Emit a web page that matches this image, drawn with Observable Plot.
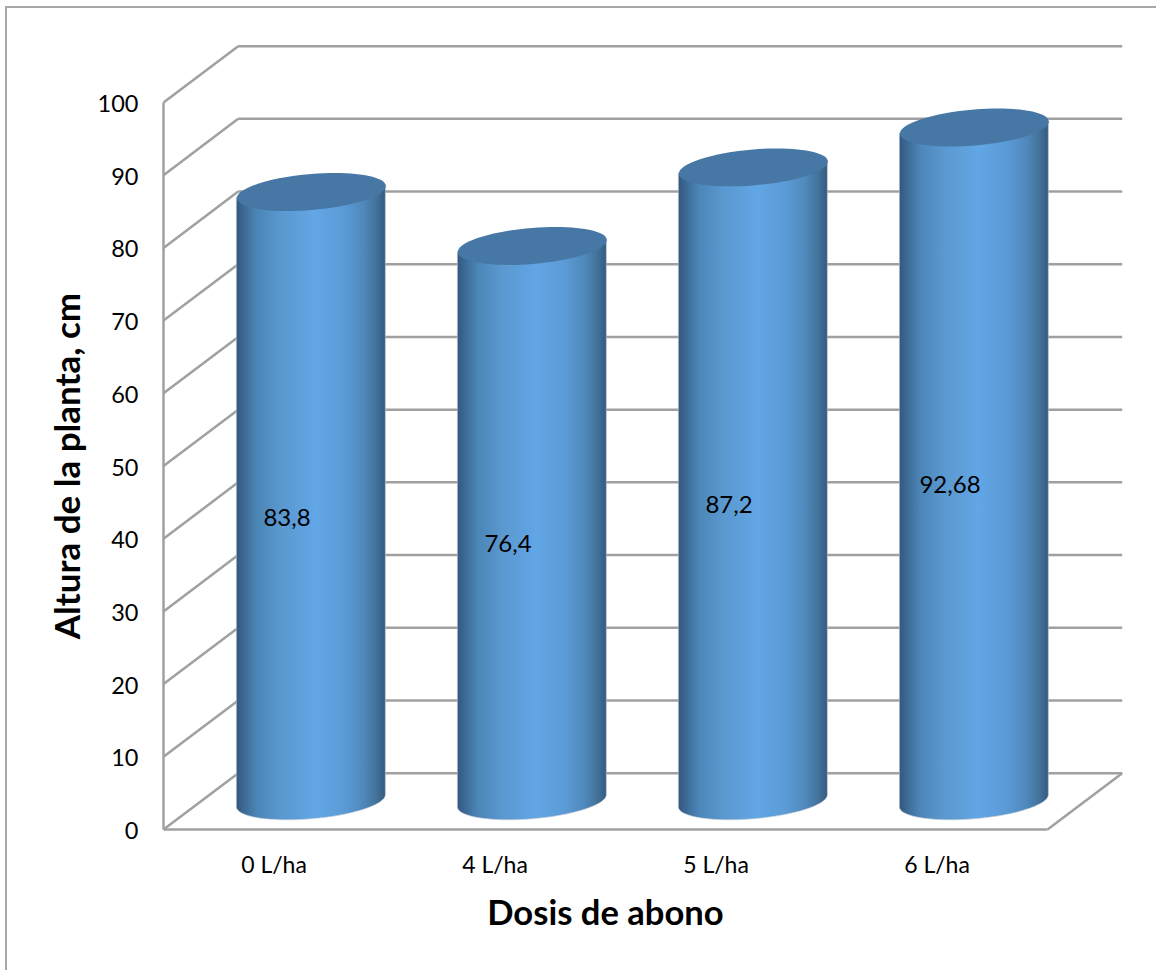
<!DOCTYPE html>
<html>
<head>
<meta charset="utf-8">
<script src="https://cdn.jsdelivr.net/npm/d3@7"></script>
<script src="https://cdn.jsdelivr.net/npm/@observablehq/plot@0.6"></script>
<style>
  html, body { margin: 0; padding: 0; background: #fff; }
  #page { position: relative; width: 1156px; height: 970px; overflow: hidden; font-family: Lato, sans-serif; }
  #edge { position: absolute; left: 5px; top: 6px; right: -4px; bottom: -4px; border-left: 2px solid #a8a8a8; border-top: 2px solid #a8a8a8; }
  #chart { position: absolute; left: 0; top: 0; }
  #chart svg { background: transparent; overflow: visible; }
</style>
</head>
<body>
<div id="page"><div id="edge"></div><div id="chart"></div></div>
<script>
const categories = ["0 L/ha", "4 L/ha", "5 L/ha", "6 L/ha"];
const heights = [83.8, 76.4, 87.2, 92.68];
const valueLabels = ["83,8", "76,4", "87,2", "92,68"];
const yTicks = [0, 10, 20, 30, 40, 50, 60, 70, 80, 90, 100];

// Depth of the 3D box, in data units of the two scales.
const depthX = 0.338;
const depthY = 7.75;

const rows = categories.map((category, i) => ({category, i, height: heights[i], label: valueLabels[i]}));
const gridColor = "#a0a0a0";
const shear = 6, lip = 18, kappa = 0.5523;

// Sheared ellipse: the tilted lid of a cylinder.
const lid = {
  draw(ctx, size) {
    const a = Math.sqrt(size / Math.PI), b = lip, k = shear, q = kappa;
    ctx.moveTo(-a, k);
    ctx.bezierCurveTo(-a, k + q * b, -q * a, b + q * k, 0, b);
    ctx.bezierCurveTo(q * a, b - q * k, a, -k + q * b, a, -k);
    ctx.bezierCurveTo(a, -k - q * b, q * a, -b - q * k, 0, -b);
    ctx.bezierCurveTo(-q * a, -b + q * k, -a, k - q * b, -a, k);
    ctx.closePath();
  }
};

// Turns each rect from the library into a cylinder body with a rounded bottom.
function cylinderBody(index, scales, values, dimensions, context, next) {
  const g = next(index, scales, values, dimensions, context);
  d3.select(g).selectAll("rect").each(function () {
    const x = +this.getAttribute("x"), y = +this.getAttribute("y");
    const w = +this.getAttribute("width"), h = +this.getAttribute("height");
    const a = w / 2, b = lip, k = shear, q = kappa, cx = x + a, cy = y + h;
    const path = document.createElementNS("http://www.w3.org/2000/svg", "path");
    path.setAttribute("d",
      `M${x},${y + k}L${x},${cy + k}` +
      `C${x},${cy + k + q * b} ${cx - q * a},${cy + b + q * k} ${cx},${cy + b}` +
      `C${cx + q * a},${cy + b - q * k} ${x + w},${cy - k + q * b} ${x + w},${cy - k}` +
      `L${x + w},${y - k}Z`);
    this.replaceWith(path);
  });
  return g;
}

const plot = Plot.plot({
  width: 1156,
  height: 970,
  marginTop: 102,
  marginBottom: 141,
  marginLeft: 163,
  marginRight: 109,
  style: {fontFamily: "Lato, sans-serif", color: "#000", background: "transparent"},
  x: {type: "linear", domain: [0, categories.length], axis: null},
  y: {type: "linear", domain: [0, 100], axis: null},
  marks: [
    // left wall and back wall
    Plot.link(yTicks, {x1: 0, x2: depthX, y1: d => d, y2: d => d + depthY, stroke: gridColor, strokeWidth: 2.5}),
    Plot.link(yTicks, {x1: depthX, x2: categories.length + depthX, y1: d => d + depthY, y2: d => d + depthY, stroke: gridColor, strokeWidth: 2.5}),
    // front axis edges and floor
    Plot.link([0], {x1: 0, x2: 0, y1: 0, y2: 100, stroke: gridColor, strokeWidth: 2.5}),
    Plot.link([0], {x1: 0, x2: categories.length, y1: 0, y2: 0, stroke: gridColor, strokeWidth: 2.5}),
    Plot.link([0], {x1: categories.length, x2: categories.length + depthX, y1: 0, y2: depthY, stroke: gridColor, strokeWidth: 2.5}),
    // cylinders
    Plot.rectY(rows, {
      x1: d => d.i + depthX / 2,
      x2: d => d.i + 1 + depthX / 2,
      y1: depthY / 2,
      y2: d => d.height + depthY / 2,
      insetLeft: 36,
      insetRight: 36,
      fill: "url(#cylinderShade)",
      stroke: "#c3ccd6",
      strokeOpacity: 0.6,
      strokeWidth: 1,
      render: cylinderBody
    }),
    Plot.dot(rows, {
      x: d => d.i + 0.5 + depthX / 2,
      y: d => d.height + depthY / 2,
      r: 74.5,
      symbol: lid,
      fill: "#4677a5"
    }),
    // value labels
    Plot.text(rows, {
      x: d => d.i + 0.5,
      y: d => d.height / 2,
      text: "label",
      dx: 13,
      dy: -7,
      fontSize: 24,
      fill: "#000"
    }),
    // axes
    Plot.axisY({ticks: yTicks, tickSize: 0, tickPadding: 25, fontSize: 23.5, dy: 2, label: null, anchor: "left", stroke: "none", fill: "#000"}),
    Plot.axisX({
      ticks: categories.map((d, i) => i + 0.5),
      tickFormat: (d, i) => categories[i],
      tickSize: 0,
      tickPadding: 26,
      fontSize: 23,
      dy: 1,
      label: null,
      anchor: "bottom",
      fill: "#000"
    }),
    Plot.text(["Altura de la planta, cm"], {frameAnchor: "left", textAnchor: "middle", rotate: -90, dx: -95, fontSize: 35, fontWeight: 700, fill: "#000", lineAnchor: "middle"}),
    Plot.text(["Dosis de abono"], {frameAnchor: "bottom", dy: 84, fontSize: 34.6, fontWeight: 700, fill: "#000", lineAnchor: "middle"})
  ]
});

// Horizontal shading shared by the cylinder bodies.
const defs = d3.select(plot).insert("defs", ":first-child");
const shade = defs.append("linearGradient").attr("id", "cylinderShade").attr("x1", 0).attr("x2", 1).attr("y1", 0).attr("y2", 0);
[[0, "#33587f"], [0.06, "#3e6c98"], [0.14, "#4c86b8"], [0.3, "#5a98cf"], [0.53, "#62a6e6"], [0.72, "#5b9bd6"], [0.85, "#4f89bd"], [0.94, "#437299"], [1, "#335a80"]]
  .forEach(([offset, color]) => shade.append("stop").attr("offset", offset).attr("stop-color", color));

document.getElementById("chart").appendChild(plot);
</script>
</body>
</html>
